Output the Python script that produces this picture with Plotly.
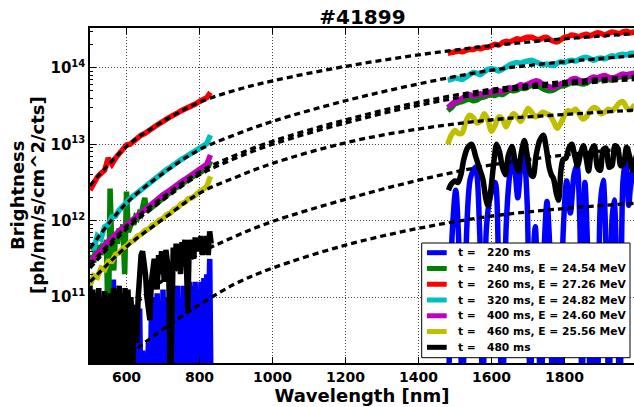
import plotly.graph_objects as go

# ---------------- data (log10 of brightness) ----------------
labels_t = ["220 ms", "240 ms, E = 24.54 MeV", "260 ms, E = 27.26 MeV", "320 ms, E = 24.82 MeV",
            "400 ms, E = 24.60 MeV", "460 ms, E = 25.56 MeV", "480 ms"]
colors = ["#0000ff", "#008000", "#ff0000", "#00bfbf", "#bf00bf", "#bfbf00", "#000000"]
y_tick_exponents = [11, 12, 13, 14]

# visible spectrometer
wl_vis10 = list(range(500, 831, 10))
wl_vis5 = list(range(500, 831, 5))
wl_vis4 = list(range(500, 833, 4))
# infrared spectrometer
wl_ir10 = list(range(1480, 2001, 10))

red_vis = [12.40, 12.50, 12.57, 12.62, 12.66, 12.82, 12.74, 12.82, 12.88, 12.93, 12.99, 13.00, 13.04, 13.09,
           13.12, 13.14, 13.18, 13.22, 13.24, 13.27, 13.31, 13.33, 13.36, 13.38, 13.41, 13.44, 13.46, 13.48,
           13.51, 13.53, 13.56, 13.58, 13.61, 13.68]
cyan_vis = [11.70, 11.62, 11.80, 11.76, 11.92, 11.95, 12.05, 12.06, 12.14, 12.20, 12.24, 12.29, 12.33, 12.37,
            12.41, 12.45, 12.49, 12.53, 12.57, 12.60, 12.64, 12.67, 12.70, 12.74, 12.77, 12.80, 12.83, 12.86,
            12.89, 12.92, 12.95, 12.98, 13.01, 13.12]
magenta_vis = [11.45, 11.50, 11.58, 11.60, 11.68, 11.72, 11.78, 11.82, 11.87, 11.91, 11.96, 12.00, 12.04, 12.08,
               12.12, 12.16, 12.20, 12.23, 12.27, 12.30, 12.34, 12.37, 12.41, 12.44, 12.48, 12.51, 12.54, 12.57,
               12.61, 12.64, 12.67, 12.70, 12.74, 12.86]
yellow_vis = [11.15, 11.28, 11.26, 11.38, 11.36, 11.47, 11.47, 11.56, 11.58, 11.64, 11.67, 11.72, 11.74, 11.80,
              11.82, 11.87, 11.89, 11.94, 11.96, 12.01, 12.03, 12.08, 12.10, 12.15, 12.17, 12.22, 12.24, 12.29,
              12.30, 12.35, 12.38, 12.41, 12.45, 12.58]
green_vis = [11.40, 11.55, 11.45, 11.62, 11.50, 11.68, 11.55, 11.70, 11.60, 11.75, 10.45, 12.42, 11.60, 11.35,
             11.85, 11.70, 11.90, 11.80, 11.95, 11.30, 12.38, 11.85, 11.92, 12.00, 11.95, 12.05, 12.03, 12.10,
             12.08, 12.20, 12.30, 12.12, 12.14, 12.17, 12.18, 12.21, 12.23, 12.25, 12.27, 12.29, 12.31, 12.32,
             12.34, 12.36, 12.38, 12.39, 12.41, 12.43, 12.44, 12.46, 12.47, 12.49, 12.51, 12.52, 12.54, 12.56,
             12.57, 12.59, 12.60, 12.62, 12.63, 12.64, 12.66, 12.67, 12.69, 12.72, 12.78]
blue_vis = [10.5, 9.5, 10.6, 9.5, 10.4, 9.5, 10.7, 9.5, 10.6, 9.5, 10.8, 9.5, 11.1, 10.2, 11.2, 9.5,
            11.23, 10.4, 11.0, 9.5, 10.8, 9.5, 10.95, 9.5, 10.7, 9.5, 10.9, 10.0, 10.95, 9.5, 10.8, 9.5,
            10.9, 9.5, 10.85, 9.5, 10.3, 9.5, 10.2, 9.5, 10.4, 9.5, 10.7, 9.5, 11.0, 9.5, 11.05, 10.2,
            10.9, 9.5, 11.1, 9.5, 11.0, 9.5, 10.95, 9.5, 11.1, 9.5, 11.05, 10.3, 11.15, 9.5, 11.0, 9.5,
            11.15, 9.5, 11.1, 10.5, 11.2, 9.5, 11.15, 9.5, 11.2, 10.4, 11.1, 9.5, 11.2, 9.5, 11.25, 9.5,
            11.3, 10.6, 11.5, 9.5]
black_vis = [11.15, 9.5, 11.10, 10.2, 11.05, 9.5, 11.12, 10.0, 11.00, 9.5, 11.08, 10.3, 10.95, 9.5, 11.05, 9.8,
             11.12, 9.5, 11.10, 10.4, 11.15, 9.5, 11.05, 10.2, 11.12, 9.5, 11.10, 10.5, 11.0, 9.5, 10.9, 10.45,
             10.40, 11.0, 11.3, 11.55, 11.60, 11.45, 11.3, 11.0, 10.85, 10.70, 11.2, 11.45, 11.5, 11.35, 11.10, 11.55,
             11.30, 11.6, 11.35, 11.2, 11.62, 11.40, 11.3, 9.5, 11.5, 11.65, 11.35, 11.7, 11.5, 11.68, 11.3, 11.72,
             11.55, 11.75, 11.45, 10.8, 11.75, 11.6, 11.72, 11.5, 11.78, 11.6, 11.75, 11.62, 11.8, 11.55, 11.78, 11.65,
             11.8, 11.55, 11.86, 11.70]

red_ir = [14.19, 14.20, 14.21, 14.22, 14.21, 14.23, 14.24, 14.24, 14.26, 14.25, 14.27, 14.27, 14.29, 14.31,
          14.30, 14.33, 14.35, 14.34, 14.36, 14.38, 14.37, 14.39, 14.40, 14.40, 14.38, 14.37, 14.39, 14.40,
          14.37, 14.35, 14.34, 14.37, 14.40, 14.41, 14.43, 14.42, 14.41, 14.43, 14.44, 14.42, 14.44, 14.46,
          14.45, 14.43, 14.45, 14.47, 14.46, 14.45, 14.47, 14.48, 14.46, 14.47, 14.48]
cyan_ir = [13.84, 13.85, 13.87, 13.86, 13.85, 13.88, 13.91, 13.94, 13.93, 13.91, 13.95, 13.98, 13.99, 13.98,
           13.96, 13.98, 14.01, 14.04, 14.06, 14.07, 14.06, 14.08, 14.09, 14.10, 14.08, 14.06, 14.04, 14.05,
           14.04, 14.03, 14.06, 14.08, 14.07, 14.09, 14.10, 14.09, 14.11, 14.13, 14.14, 14.12, 14.10, 14.12,
           14.13, 14.12, 14.14, 14.16, 14.15, 14.17, 14.18, 14.17, 14.19, 14.19, 14.18]
magenta_ir = [13.48, 13.52, 13.56, 13.58, 13.60, 13.64, 13.65, 13.63, 13.65, 13.66, 13.65, 13.67, 13.69, 13.68,
              13.70, 13.69, 13.72, 13.74, 13.73, 13.75, 13.78, 13.77, 13.79, 13.81, 13.83, 13.82, 13.79, 13.77,
              13.75, 13.74, 13.77, 13.79, 13.80, 13.82, 13.85, 13.86, 13.84, 13.82, 13.83, 13.86, 13.88, 13.87,
              13.89, 13.90, 13.88, 13.87, 13.88, 13.90, 13.92, 13.91, 13.92, 13.93, 13.92]
green_ir = [13.44, 13.48, 13.53, 13.55, 13.56, 13.58, 13.59, 13.57, 13.58, 13.61, 13.62, 13.64, 13.65, 13.64,
            13.66, 13.65, 13.68, 13.71, 13.70, 13.71, 13.74, 13.73, 13.75, 13.77, 13.78, 13.76, 13.73, 13.71,
            13.70, 13.71, 13.74, 13.76, 13.77, 13.79, 13.81, 13.82, 13.80, 13.79, 13.80, 13.83, 13.85, 13.84,
            13.86, 13.87, 13.85, 13.84, 13.86, 13.88, 13.89, 13.88, 13.89, 13.90, 13.89]
yellow_ir = [13.00, 13.12, 13.18, 13.14, 13.15, 13.30, 13.38, 13.35, 13.28, 13.30, 13.40, 13.32, 13.17, 13.25,
             13.36, 13.33, 13.23, 13.33, 13.40, 13.36, 13.30, 13.38, 13.47, 13.42, 13.36, 13.38, 13.42, 13.40,
             13.38, 13.30, 13.21, 13.28, 13.38, 13.44, 13.42, 13.46, 13.40, 13.33, 13.36, 13.44, 13.48, 13.46,
             13.40, 13.42, 13.46, 13.44, 13.48, 13.54, 13.56, 13.48, 13.45, 13.50, 13.52]

blue_ir_wl = [1482, 1492, 1502, 1512, 1520, 1530, 1542, 1556, 1568, 1576, 1586, 1596, 1610, 1620, 1630, 1640,
              1650, 1660, 1672, 1680, 1688, 1698, 1706, 1714, 1720, 1728, 1736, 1744, 1752, 1760, 1768, 1778,
              1788, 1796, 1806, 1816, 1826, 1834, 1842, 1848, 1856, 1864, 1872, 1882, 1890, 1898, 1906, 1914,
              1922, 1930, 1936, 1944, 1952, 1960, 1968, 1976, 1984, 1992, 2000]
blue_ir = [9.5, 11.8, 12.40, 11.5, 9.5, 11.6, 12.55, 12.70, 11.8, 9.5, 11.9, 12.30, 12.50, 11.2, 9.5, 11.9,
           12.6, 12.84, 12.3, 12.7, 12.92, 12.2, 9.5, 11.5, 11.92, 10.8, 9.5, 11.6, 12.25, 11.6, 9.5, 10.5,
           9.5, 11.8, 12.52, 12.1, 12.60, 12.73, 12.0, 9.5, 12.50, 11.5, 9.5, 10.8, 9.5, 12.2, 12.53, 11.6,
           9.5, 12.0, 12.27, 11.2, 9.5, 12.5, 12.80, 12.2, 12.6, 12.68, 12.0]
black_ir_wl = [1482, 1490, 1500, 1508, 1516, 1524, 1534, 1546, 1556, 1566, 1576, 1584, 1590, 1598, 1606, 1614,
               1622, 1630, 1638, 1646, 1656, 1666, 1674, 1682, 1690, 1698, 1706, 1714, 1722, 1732, 1742, 1750,
               1758, 1764, 1770, 1778, 1784, 1790, 1796, 1804, 1812, 1820, 1828, 1836, 1844, 1852, 1860, 1866,
               1874, 1882, 1890, 1898, 1906, 1914, 1922, 1930, 1938, 1946, 1954, 1962, 1970, 1978, 1986, 1994, 2000]
black_ir = [12.40, 12.48, 12.52, 12.50, 12.60, 12.80, 12.95, 13.00, 12.85, 12.70, 12.55, 12.30, 12.20, 12.40,
            12.75, 13.00, 12.90, 12.70, 12.60, 12.85, 12.97, 12.75, 12.65, 12.90, 13.05, 12.85, 12.62, 12.58,
            12.85, 13.05, 13.12, 12.95, 12.70, 12.60, 12.55, 12.35, 12.27, 12.65, 12.80, 12.82, 12.95, 13.00,
            12.85, 12.72, 12.88, 12.98, 12.80, 12.65, 12.92, 12.98, 12.70, 12.66, 12.93, 12.95, 12.70, 12.72,
            12.98, 12.95, 12.72, 12.75, 12.96, 12.85, 12.66, 12.80, 12.90]

# fitted spectra (dashed)
wl_fit = [500, 600, 700, 800, 900, 1000, 1200, 1400, 1600, 1800, 2000]
fit_blue = [9.85, 10.22, 10.58, 10.90, 11.18, 11.38, 11.68, 11.90, 12.06, 12.16, 12.23]
fit_green = [11.38, 11.89, 12.27, 12.60, 12.82, 13.00, 13.28, 13.51, 13.68, 13.78, 13.85]
fit_red = [12.46, 12.97, 13.30, 13.55, 13.71, 13.83, 14.02, 14.17, 14.29, 14.38, 14.45]
fit_cyan = [11.64, 12.23, 12.62, 12.93, 13.13, 13.30, 13.57, 13.79, 13.97, 14.08, 14.16]
fit_magenta = [11.42, 11.93, 12.31, 12.64, 12.86, 13.04, 13.32, 13.55, 13.72, 13.82, 13.89]
fit_yellow = [11.20, 11.66, 12.02, 12.36, 12.57, 12.75, 13.02, 13.20, 13.32, 13.39, 13.45]
fit_black = [10.25, 10.80, 11.22, 11.57, 11.80, 11.99, 12.28, 12.53, 12.73, 12.86, 12.96]

y_title_lines = ["Brightness", "[ph/nm/s/cm^2/cts]"]


def lin(v):
    return [10 ** x for x in v]


fig = go.Figure()
LW = 5.5

series = [
    (wl_vis4, blue_vis, blue_ir_wl, blue_ir, 0),
    (wl_vis5, green_vis, wl_ir10, green_ir, 1),
    (wl_vis10, red_vis, wl_ir10, red_ir, 2),
    (wl_vis10, cyan_vis, wl_ir10, cyan_ir, 3),
    (wl_vis10, magenta_vis, wl_ir10, magenta_ir, 4),
    (wl_vis10, yellow_vis, wl_ir10, yellow_ir, 5),
    (wl_vis4, black_vis, black_ir_wl, black_ir, 6),
]
for xv, yv, xi, yi, ci in series:
    fig.add_trace(go.Scatter(x=xv, y=lin(yv), mode="lines", line=dict(color=colors[ci], width=LW),
                             showlegend=False, hoverinfo="skip"))
    fig.add_trace(go.Scatter(x=xi, y=lin(yi), mode="lines",
                             line=dict(color=colors[ci], width=LW, shape="spline", smoothing=0.8),
                             showlegend=False, hoverinfo="skip"))

for f in [fit_blue, fit_green, fit_red, fit_cyan, fit_magenta, fit_yellow, fit_black]:
    fig.add_trace(go.Scatter(x=wl_fit, y=lin(f), mode="lines",
                             line=dict(color="black", width=3.3, dash="6px,4px", shape="spline", smoothing=1.0),
                             showlegend=False, hoverinfo="skip"))

FONT = "DejaVu Sans"
axis_common = dict(showline=True, linecolor="black", linewidth=1.5, ticks="inside", ticklen=6,
                   tickcolor="black", tickwidth=1, showgrid=True, gridcolor="#444444", griddash="1px,2px",
                   gridwidth=1, zeroline=False)

fig.update_layout(
    width=634, height=407,
    margin=dict(l=90, r=0, t=28, b=44),
    paper_bgcolor="white", plot_bgcolor="white",
    font=dict(family=FONT, color="black"),
    title=dict(text="#41899", x=0.5716, xanchor="center", y=0.959, yanchor="middle",
               font=dict(family=FONT, size=20, weight="bold", color="black")),
    xaxis=dict(range=[500, 1990.4], dtick=200, tick0=0, mirror="ticks",
               tickfont=dict(family=FONT, size=14, weight="bold", color="black"),
               title=dict(text="Wavelength [nm]", standoff=1,
                          font=dict(family=FONT, size=18, weight="bold", color="black")),
               **axis_common),
    yaxis=dict(type="log", range=[10.138, 14.522],
               tickmode="array", tickvals=[10 ** e for e in y_tick_exponents],
               ticktext=["10<sup><span style='font-size:10px'>%d</span></sup>" % e for e in y_tick_exponents],
               tickfont=dict(family=FONT, size=15, weight="bold", color="black"),
               minor=dict(ticks="inside", ticklen=3, tickcolor="black", showgrid=False,
                          tickvals=[m * 10 ** e for e in [10, 11, 12, 13, 14] for m in range(2, 10)]),
               **axis_common),
)

# legend and y title drawn as shapes and text
PL, PR, PT, PB = 90, 634, 28, 363


def px2x(px):
    return (px - PL) / (PR - PL)


def py2y(py):
    return (PB - py) / (PB - PT)


shapes = [dict(type="rect", xref="paper", yref="paper", x0=px2x(421.7), x1=px2x(630),
               y0=py2y(357.7), y1=py2y(243), fillcolor="white", line=dict(color="black", width=1),
               layer="above")]
annotations = []
for line_text, cx in zip(y_title_lines, [17.5, 37.5]):
    annotations.append(dict(text=line_text, xref="paper", yref="paper",
                            x=px2x(cx), y=py2y(195.5), xanchor="center", yanchor="middle", textangle=-90,
                            showarrow=False, font=dict(family=FONT, size=18, weight="bold", color="black")))
for i, (lab, col) in enumerate(zip(labels_t, colors)):
    py = 252.7 + 15.77 * i
    shapes.append(dict(type="line", xref="paper", yref="paper", x0=px2x(427), x1=px2x(446.7),
                       y0=py2y(py), y1=py2y(py), line=dict(color=col, width=5), layer="above"))
    annotations.append(dict(text="t =", xref="paper", yref="paper", x=px2x(455.5), y=py2y(py),
                            xanchor="left", yanchor="middle", showarrow=False,
                            font=dict(family=FONT, size=10.7, weight="bold", color="black")))
    annotations.append(dict(text=lab, xref="paper", yref="paper", x=px2x(485), y=py2y(py),
                            xanchor="left", yanchor="middle", showarrow=False,
                            font=dict(family=FONT, size=10.7, weight="bold", color="black")))
fig.update_layout(shapes=shapes, annotations=annotations)

fig.write_html("out.html")
